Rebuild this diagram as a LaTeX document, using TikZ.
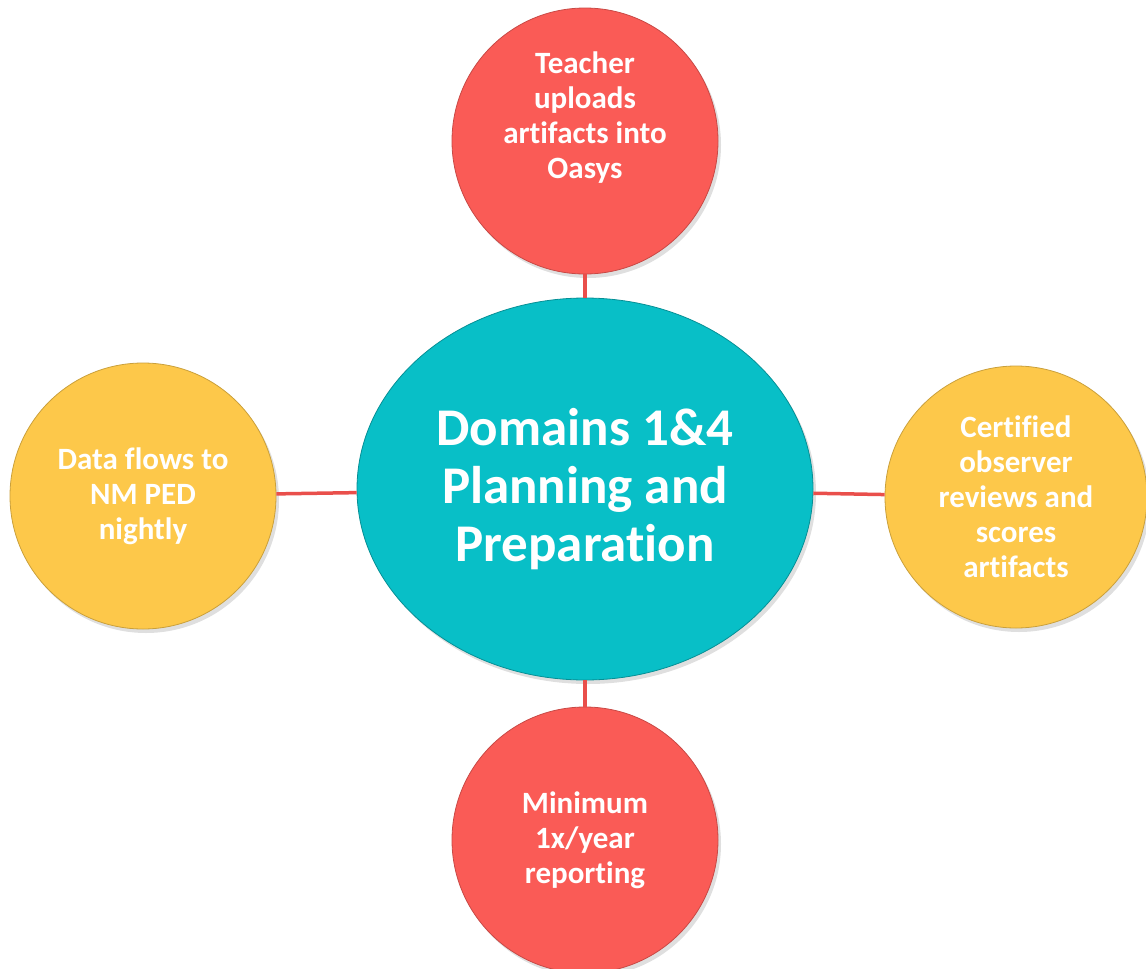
\documentclass[tikz,border=0pt]{standalone}
\usepackage{fontspec}
\setmainfont{Carlito}[Ligatures=NoCommon]
\usetikzlibrary{shapes.geometric}
\usetikzlibrary{shadows}
\definecolor{hubcyan}{HTML}{08BFC7}
\definecolor{leafred}{HTML}{FA5B56}
\definecolor{leafyellow}{HTML}{FDC84A}
\definecolor{spokered}{HTML}{E94F4B}

\tikzset{
  hub/.style={ellipse, fill=hubcyan, draw=hubcyan!75!black, line width=0.8pt,
    minimum width=456pt, minimum height=382pt, inner sep=0pt, text=white,
    font=\bfseries\fontsize{53}{58}\selectfont, align=center,
    drop shadow={opacity=0.25, shadow xshift=3pt, shadow yshift=-4pt}},
  leaf/.style={circle, line width=0.8pt, minimum size=266pt, inner sep=0pt,
    text=white, font=\bfseries\fontsize{31}{35}\selectfont, align=center,
    drop shadow={opacity=0.25, shadow xshift=3pt, shadow yshift=-4pt}},
  redleaf/.style={leaf, fill=leafred, draw=leafred!80!black},
  yellowleaf/.style={leaf, fill=leafyellow, draw=leafyellow!80!black},
  leaftext/.style={text=white, font=\bfseries\fontsize{31}{35}\selectfont, align=center},
  spoke/.style={draw=spokered, line width=3.5pt}
}

\begin{document}
\begin{tikzpicture}[x=1pt, y=-1pt]
    \useasboundingbox (0,0) rectangle (1146,969);

    \node[hub] (domains) at (585,489) {Domains 1\&4\\Planning and\\Preparation};

    \node[redleaf, label={[leaftext, yshift=23pt]center:Teacher\\uploads\\artifacts into\\Oasys}]
      (upload) at (585,141) {};
    \node[yellowleaf, minimum size=262pt] (review) at (1016,497)
      {Certified\\observer\\reviews and\\scores\\artifacts};
    \node[redleaf] (report) at (585,840) {Minimum\\1x/year\\reporting};
    \node[yellowleaf] (flow) at (143,496) {Data flows to\\NM PED\\nightly};

    \draw[spoke] (domains) -- (upload);
    \draw[spoke] (domains) -- (review);
    \draw[spoke] (domains) -- (report);
    \draw[spoke] (domains) -- (flow);
\end{tikzpicture}
\end{document}
